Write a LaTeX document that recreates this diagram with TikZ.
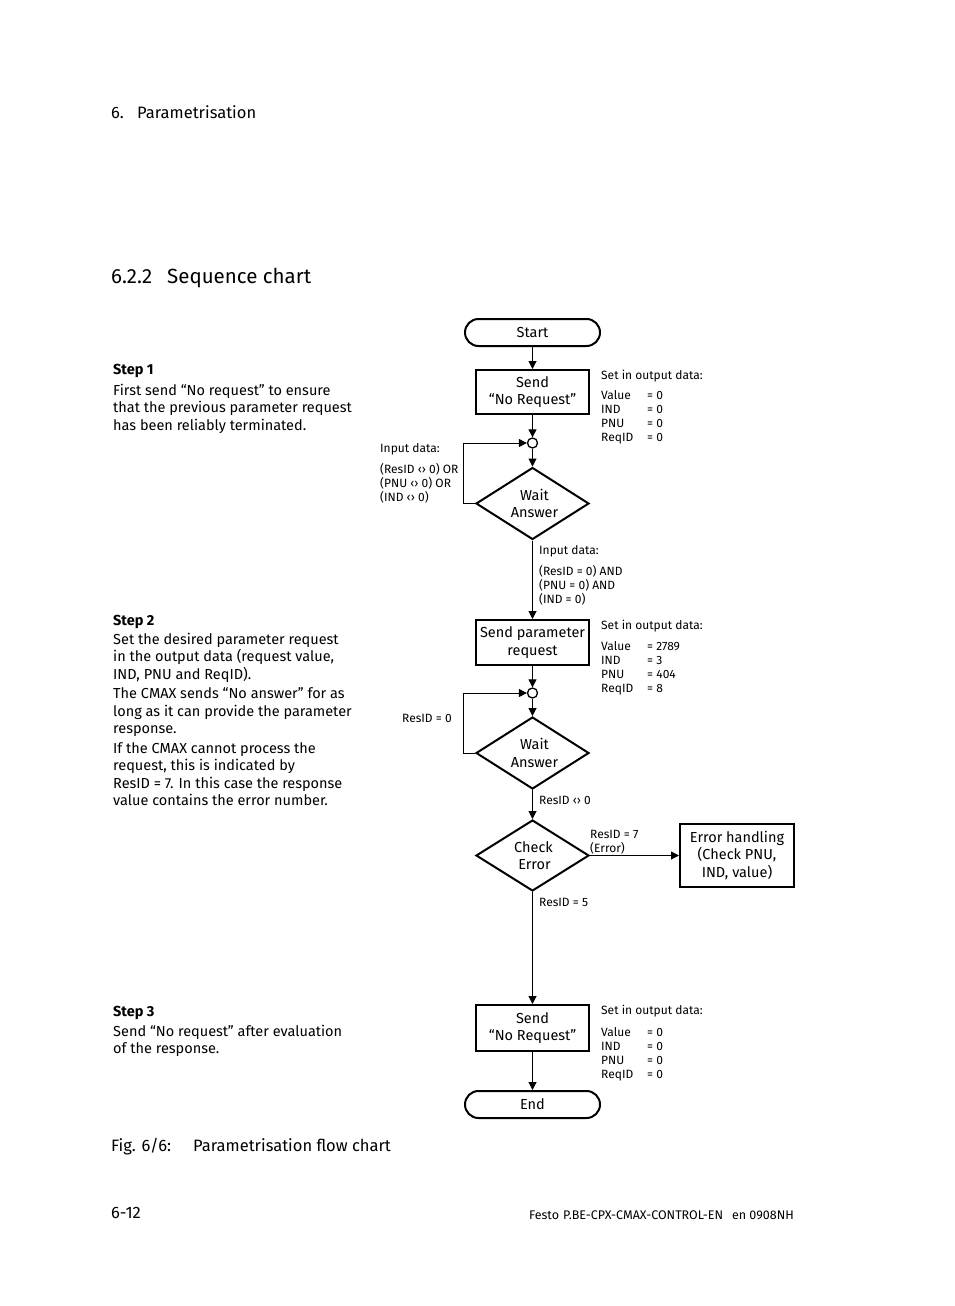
\documentclass[tikz,border=0pt]{standalone}
\usepackage{fontspec}
\setmainfont{Fira Sans}
\usetikzlibrary{arrows.meta,shapes.geometric}
\begin{document}
\begin{tikzpicture}[x=1pt,y=-1pt,
  txt/.style={inner sep=0pt,anchor=base west,align=left},
  body/.style={font=\fontsize{14.5}{17.5}\selectfont},
  small/.style={font=\fontsize{12}{14}\selectfont},
  proc/.style={draw,line width=2pt,minimum width=113pt,inner sep=0pt,align=center,font=\fontsize{14.5}{17.5}\selectfont},
  term/.style={draw,line width=2pt,rounded corners=13.5pt,minimum width=135pt,minimum height=27pt,inner sep=0pt,font=\fontsize{14.5}{17.5}\selectfont},
  dec/.style={draw,diamond,shape aspect=1.53,line width=2pt,minimum width=113pt,inner sep=0pt,align=center,font=\fontsize{14.5}{17.5}\selectfont},
  junc/.style={draw,circle,line width=1.3pt,minimum size=10pt,inner sep=0pt},
  arr/.style={line width=1pt,-{Triangle[length=8pt,width=8pt]}},
]
\useasboundingbox[fill=white] (0,0) rectangle (954,1306);

% headings
\node[txt,font=\fontsize{16.5}{19}\selectfont] (hnum) at (111,118.5) {6.};
\node[txt,font=\fontsize{16.5}{19}\selectfont] (htit) at (137,118.5) {Parametrisation};
\node[txt,font=\fontsize{20.5}{24}\selectfont] (snum) at (111,283.5) {6.2.2};
\node[txt,font=\fontsize{20.5}{24}\selectfont] (stit) at (167,283.5) {Sequence chart};

% steps (base anchor = baseline of last line)
\node[txt,body] (step1) at (113,430) {\textbf{Step 1}\\[3.5pt]First send “No request” to ensure\\that the previous parameter request\\has been reliably terminated.};
\node[txt,body] (step2) at (113,805.5) {\textbf{Step 2}\\[1.5pt]Set the desired parameter request\\in the output data (request value,\\IND, PNU and ReqID).\\[2pt]The CMAX sends “No answer” for as\\long as it can provide the parameter\\response.\\[2pt]If the CMAX cannot process the\\request, this is indicated by\\ResID = 7. In this case the response\\value contains the error number.};
\node[txt,body] (step3) at (113,1053.5) {\textbf{Step 3}\\[2.5pt]Send “No request” after evaluation\\of the response.};

% flow nodes
\node[term] (start) at (532.5,332.5) {Start};
\node[proc,minimum height=44pt] (b1) at (532.5,392) {Send\\“No Request”};
\node[junc] (c1) at (532.5,443) {};
\node[dec,minimum height=72pt] (d1) at (532.5,503.5) {\hspace*{4pt}Wait\\\hspace*{4pt}Answer};
\node[proc,minimum height=45pt] (b2) at (532.5,642.5) {Send parameter\\request};
\node[junc] (c2) at (532.5,693) {};
\node[dec,minimum height=72pt] (d2) at (532.5,753) {\hspace*{4pt}Wait\\\hspace*{4pt}Answer};
\node[dec,minimum height=71pt] (d3) at (532.5,855.5) {\hspace*{2pt}Check\\\hspace*{4pt}Error};
\node[proc,minimum width=114pt,minimum height=63pt] (err) at (737,855.5) {Error handling\\ (Check PNU,\\IND, value)};
\node[proc,minimum height=46pt] (b3) at (532.5,1028) {Send\\“No Request”};
\node[term] (end) at (532.5,1104.5) {End};

% connectors
\draw[arr] (start) -- (b1);
\draw[arr] (b1) -- (c1);
\draw[arr] (c1) -- (d1.north);
\draw[arr] (d1.west) -- ++(-12,0) |- (c1.west);
\draw[arr] (d1.south) -- (b2.north);
\draw[arr] (b2) -- (c2);
\draw[arr] (c2) -- (d2.north);
\draw[arr] (d2.west) -- ++(-12,0) |- (c2.west);
\draw[arr] (d2.south) -- (d3.north);
\draw[arr] (d3.east) -- (err.west);
\draw[arr] (d3.south) -- (b3.north);
\draw[arr] (b3) -- (end);

% output data blocks
\node[txt,small] (o1h) at (601,379) {Set in output data:};
\node[txt,small] (o1k) at (601,441) {Value\\IND\\PNU\\ReqID};
\node[txt,small] (o1v) at (647,441) {= 0\\= 0\\= 0\\= 0};
\node[txt,small] (o2h) at (601,629) {Set in output data:};
\node[txt,small] (o2k) at (601,692) {Value\\IND\\PNU\\ReqID};
\node[txt,small] (o2v) at (647,692) {= 2789\\= 3\\= 404\\= 8};
\node[txt,small] (o3h) at (601,1014) {Set in output data:};
\node[txt,small] (o3k) at (601,1078) {Value\\IND\\PNU\\ReqID};
\node[txt,small] (o3v) at (647,1078) {= 0\\= 0\\= 0\\= 0};

% condition labels
\node[txt,small] (in1) at (380,501) {Input data:\\[7pt](ResID ‹› 0) OR\\(PNU ‹› 0) OR\\(IND ‹› 0)};
\node[txt,small] (in2) at (539,603) {Input data:\\[7pt](ResID = 0) AND\\(PNU = 0) AND\\(IND = 0)};
\node[txt,small] (l0) at (402,722) {ResID = 0};
\node[txt,small] (lne) at (539,804) {ResID ‹› 0};
\node[txt,small] (l7) at (590,852) {ResID = 7\\(Error)};
\node[txt,small] (l5) at (539,906) {ResID = 5};

% caption and footer
\node[txt,font=\fontsize{16.5}{19}\selectfont] (fig) at (111,1151.5) {Fig. 6/6:};
\node[txt,font=\fontsize{16.5}{19}\selectfont] (figt) at (193,1151.5) {Parametrisation flow chart};
\node[txt,font=\fontsize{16.5}{19}\selectfont] (page) at (111,1218.5) {6-12};
\node[inner sep=0pt,anchor=base east,font=\fontsize{12.5}{14}\selectfont] (foot) at (794,1219.5) {Festo\hspace{4pt}P.BE-CPX-CMAX-CONTROL-EN\hspace{9pt}en 0908NH};
\end{tikzpicture}
\end{document}
